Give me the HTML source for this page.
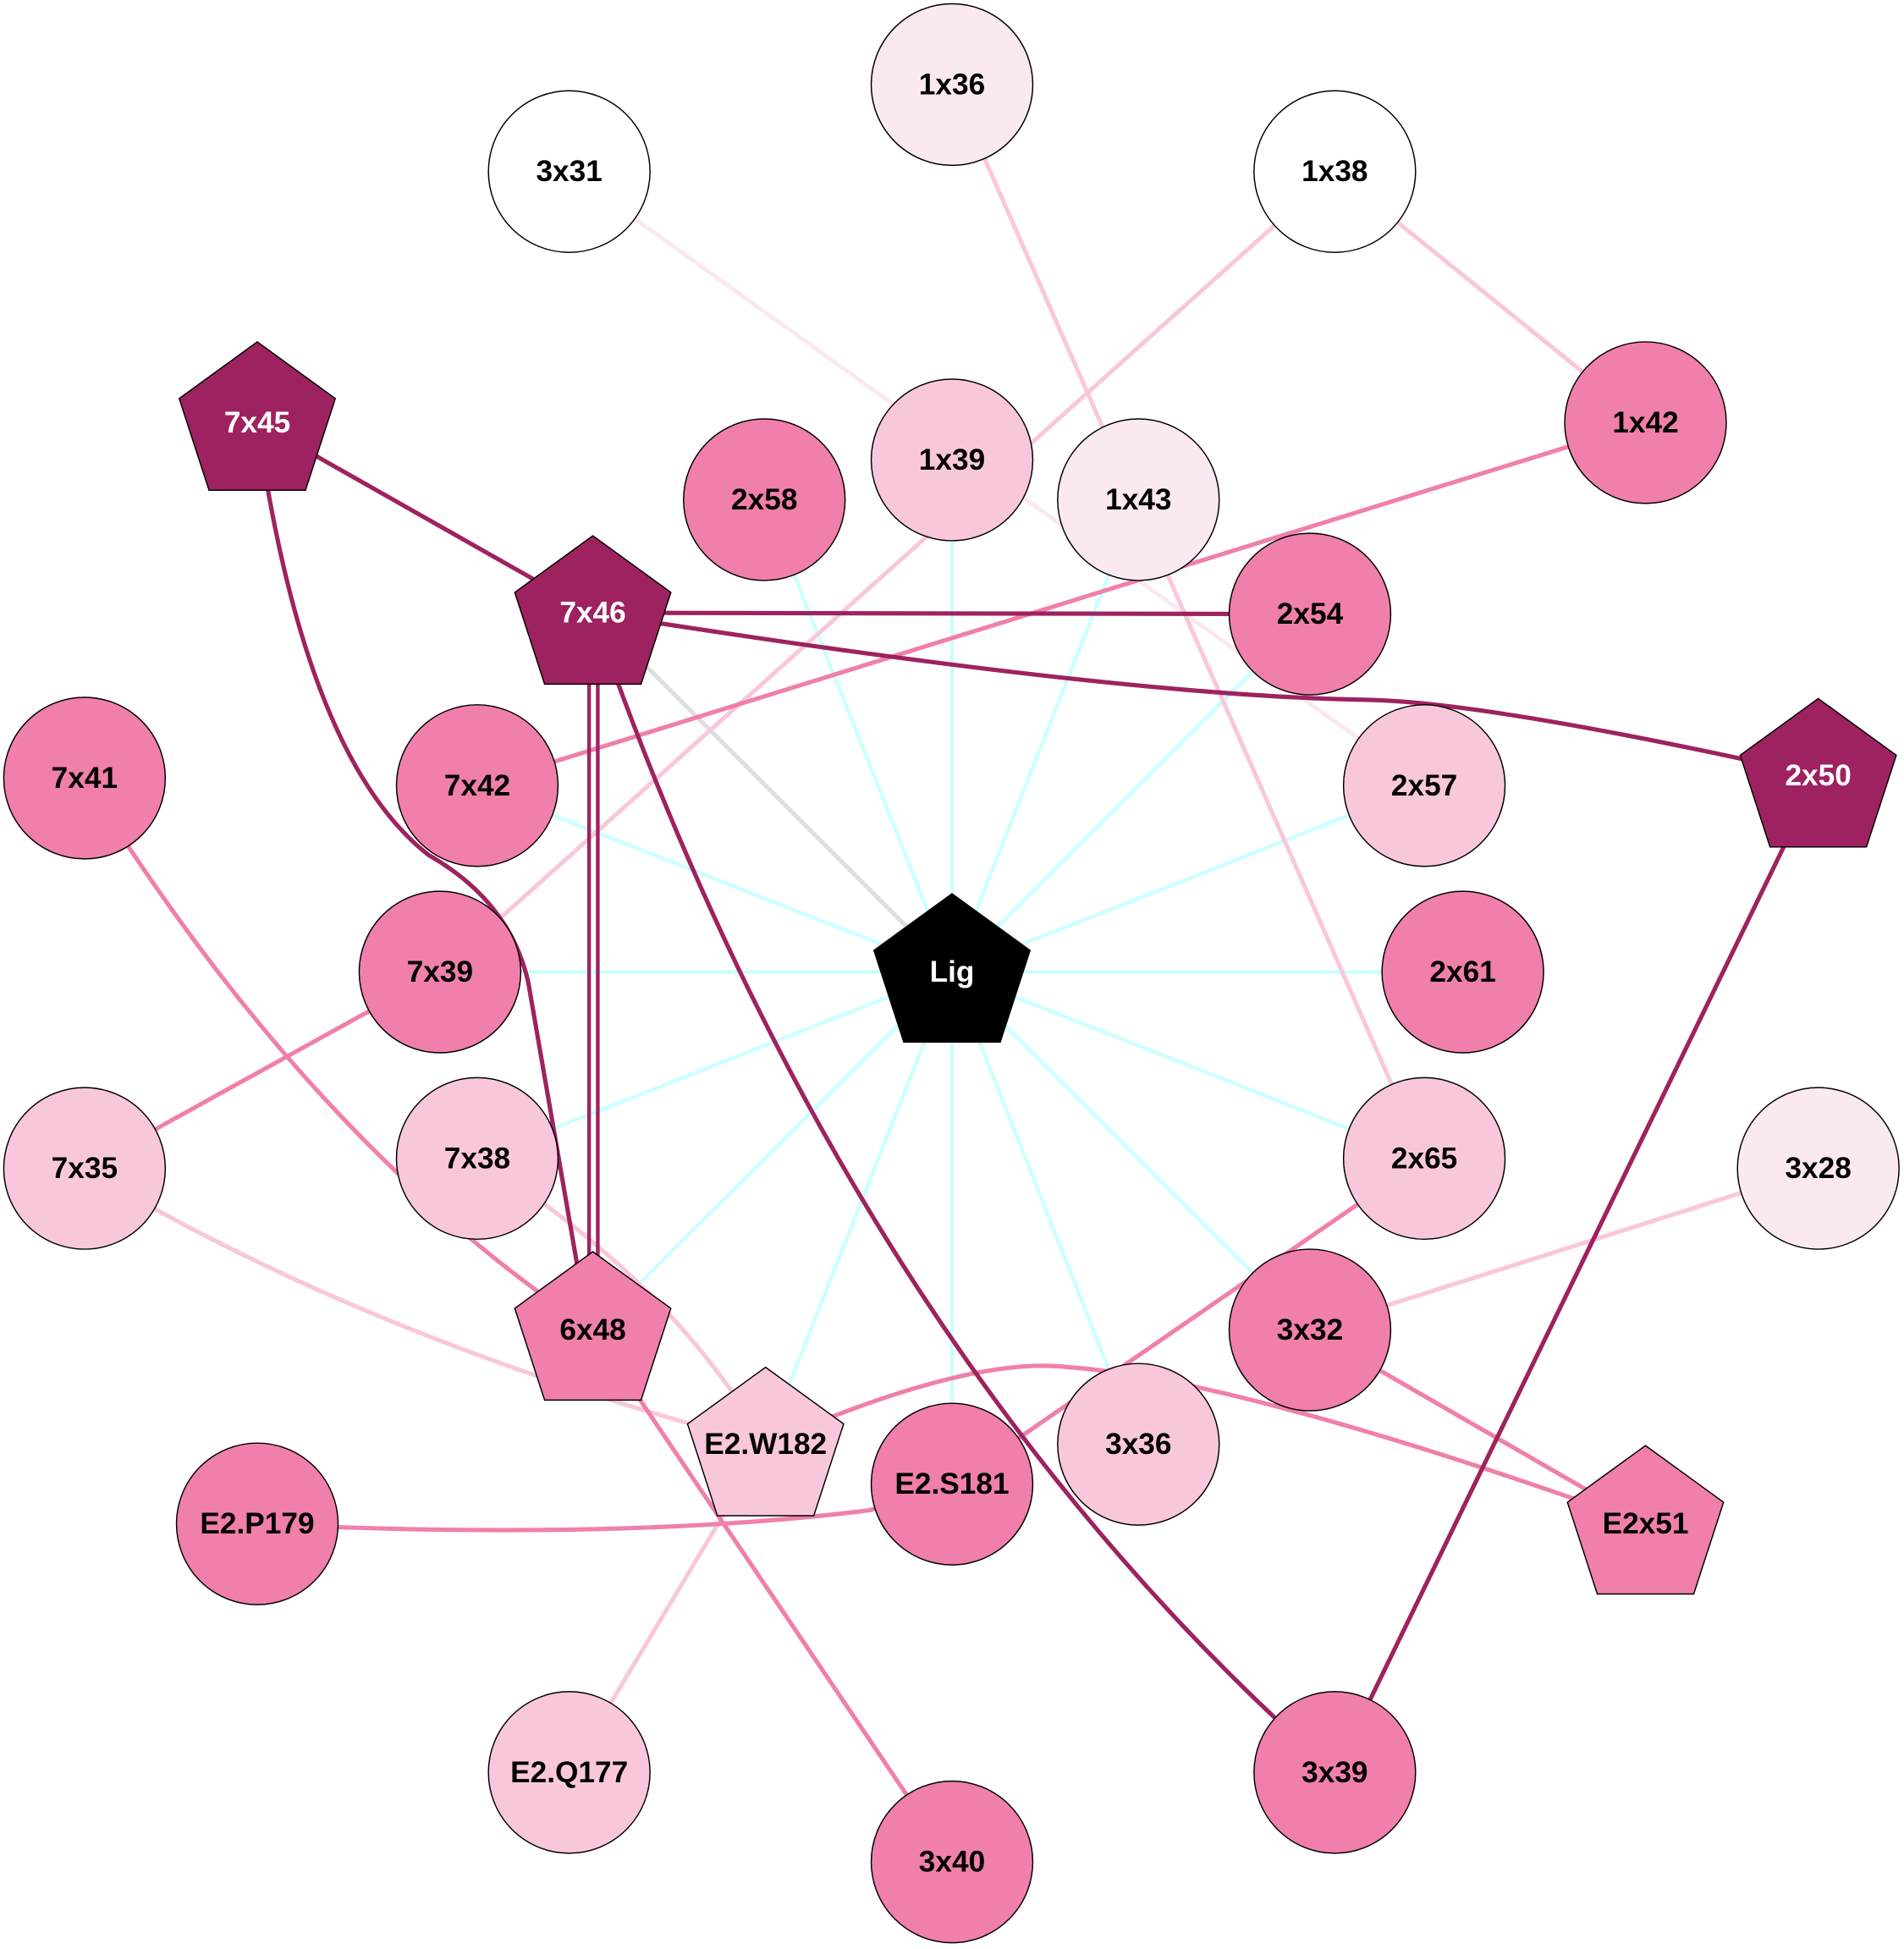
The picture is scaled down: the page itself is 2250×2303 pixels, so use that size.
<!DOCTYPE html>
<html><head><meta charset="utf-8"><style>
html,body{margin:0;padding:0;background:#fff;}
svg{display:block}
text{font-family:"Liberation Sans",Arial,sans-serif;font-weight:bold;font-size:24px;text-anchor:middle;dominant-baseline:central}
</style></head><body>
<svg width="2250" height="2303" viewBox="0 0 1532 1568" xmlns="http://www.w3.org/2000/svg">
<g fill="none" stroke-width="3.5">
<g stroke="#ccffff" stroke-width="3">
<line x1="766" y1="782" x2="615" y2="402"/>
<line x1="766" y1="782" x2="766" y2="370"/>
<line x1="766" y1="782" x2="916" y2="402"/>
<line x1="766" y1="782" x2="1054" y2="494"/>
<line x1="766" y1="782" x2="1146" y2="632"/>
<line x1="766" y1="782" x2="1177" y2="782"/>
<line x1="766" y1="782" x2="1146" y2="932"/>
<line x1="766" y1="782" x2="1054" y2="1070"/>
<line x1="766" y1="782" x2="916" y2="1162"/>
<line x1="766" y1="782" x2="766" y2="1194"/>
<line x1="766" y1="782" x2="616" y2="1162"/>
<line x1="766" y1="782" x2="477" y2="1070"/>
<line x1="766" y1="782" x2="384" y2="932"/>
<line x1="766" y1="782" x2="354" y2="782"/>
<line x1="766" y1="782" x2="384" y2="632"/>
</g>
<line x1="766" y1="782" x2="477" y2="493" stroke="#dddddd"/>
<line x1="458" y1="138" x2="1146" y2="632" stroke="#fbe9f2"/>
<g stroke="#f9c7dc">
<line x1="766" y1="68" x2="1146" y2="932"/>
<line x1="1074" y1="138" x2="354" y2="782"/>
<line x1="1074" y1="138" x2="1324" y2="340"/>
<line x1="1463" y1="940" x2="1054" y2="1070"/>
<path d="M384 932 Q540 1030 616 1162"/>
<line x1="616" y1="1162" x2="458" y2="1426"/>
<path d="M68 940 Q300 1080 616 1162"/>
</g>
<g stroke="#f07fab">
<line x1="1324" y1="340" x2="384" y2="632"/>
<path d="M68 626 Q250 920 477 1070"/>
<line x1="354" y1="782" x2="68" y2="940"/>
<line x1="477" y1="1070" x2="766" y2="1498"/>
<line x1="1146" y1="932" x2="766" y2="1194"/>
<line x1="1054" y1="1070" x2="1324" y2="1226"/>
<path d="M616 1162 Q780 1090 860 1100 Q1000 1110 1324 1226"/>
<path d="M207 1226 Q500 1240 700 1215 L766 1194"/>
</g>
<g stroke="#9e2260">
<line x1="207" y1="340" x2="477" y2="493"/>
<path d="M207 340 Q245 610 345 688 Q410 725 425 790 L470 1050"/>
<line x1="477" y1="493" x2="1054" y2="494"/>
<path d="M477 493 Q900 560 1100 563 Q1200 565 1463 624"/>
<line x1="474" y1="493" x2="474" y2="1070" stroke-width="3"/>
<line x1="481" y1="493" x2="481" y2="1070" stroke-width="3"/>
<path d="M477 493 Q680 1080 1074 1426"/>
<line x1="1463" y1="624" x2="1074" y2="1426"/>
</g>
</g>
<g stroke="#000" stroke-width="1">
<circle cx="766" cy="68" r="65" fill="#fbe9f2"/>
<circle cx="458" cy="138" r="65" fill="#fff"/>
<circle cx="1074" cy="138" r="65" fill="#fff"/>
<circle cx="1324" cy="340" r="65" fill="#f07fab"/>
<circle cx="766" cy="370" r="65" fill="#f9c7dc"/>
<circle cx="615" cy="402" r="65" fill="#f07fab"/>
<circle cx="916" cy="402" r="65" fill="#fbe9f2"/>
<circle cx="1054" cy="494" r="65" fill="#f07fab"/>
<circle cx="68" cy="626" r="65" fill="#f07fab"/>
<circle cx="384" cy="632" r="65" fill="#f07fab"/>
<circle cx="1146" cy="632" r="65" fill="#f9c7dc"/>
<circle cx="354" cy="782" r="65" fill="#f07fab"/>
<circle cx="1177" cy="782" r="65" fill="#f07fab"/>
<circle cx="68" cy="940" r="65" fill="#f9c7dc"/>
<circle cx="384" cy="932" r="65" fill="#f9c7dc"/>
<circle cx="1146" cy="932" r="65" fill="#f9c7dc"/>
<circle cx="1463" cy="940" r="65" fill="#fbe9f2"/>
<circle cx="1054" cy="1070" r="65" fill="#f07fab"/>
<circle cx="916" cy="1162" r="65" fill="#f9c7dc"/>
<circle cx="766" cy="1194" r="65" fill="#f07fab"/>
<circle cx="207" cy="1226" r="65" fill="#f07fab"/>
<circle cx="458" cy="1426" r="65" fill="#f9c7dc"/>
<circle cx="1074" cy="1426" r="65" fill="#f07fab"/>
<circle cx="766" cy="1498" r="65" fill="#f07fab"/>
<polygon transform="translate(207,341)" points="0,-66 62.8,-20.4 38.8,53.4 -38.8,53.4 -62.8,-20.4" fill="#9e2260"/>
<polygon transform="translate(477,497)" points="0,-66 62.8,-20.4 38.8,53.4 -38.8,53.4 -62.8,-20.4" fill="#9e2260"/>
<polygon transform="translate(1463,628)" points="0,-66 62.8,-20.4 38.8,53.4 -38.8,53.4 -62.8,-20.4" fill="#9e2260"/>
<polygon transform="translate(766,785)" points="0,-66 62.8,-20.4 38.8,53.4 -38.8,53.4 -62.8,-20.4" fill="#000"/>
<polygon transform="translate(477,1073)" points="0,-66 62.8,-20.4 38.8,53.4 -38.8,53.4 -62.8,-20.4" fill="#f07fab"/>
<polygon transform="translate(616,1166)" points="0,-66 62.8,-20.4 38.8,53.4 -38.8,53.4 -62.8,-20.4" fill="#f9c7dc"/>
<polygon transform="translate(1324,1229)" points="0,-66 62.8,-20.4 38.8,53.4 -38.8,53.4 -62.8,-20.4" fill="#f07fab"/>
</g>
<g fill="#000">
<text x="766" y="68">1x36</text><text x="458" y="138">3x31</text><text x="1074" y="138">1x38</text>
<text x="1324" y="340">1x42</text><text x="766" y="370">1x39</text><text x="615" y="402">2x58</text>
<text x="916" y="402">1x43</text><text x="1054" y="494">2x54</text><text x="68" y="626">7x41</text>
<text x="384" y="632">7x42</text><text x="1146" y="632">2x57</text><text x="354" y="782">7x39</text>
<text x="1177" y="782">2x61</text><text x="68" y="940">7x35</text><text x="384" y="932">7x38</text>
<text x="1146" y="932">2x65</text><text x="1463" y="940">3x28</text><text x="1054" y="1070">3x32</text>
<text x="916" y="1162">3x36</text><text x="766" y="1194">E2.S181</text><text x="207" y="1226">E2.P179</text>
<text x="458" y="1426">E2.Q177</text><text x="1074" y="1426">3x39</text><text x="766" y="1498">3x40</text>
<text x="477" y="1070">6x48</text><text x="616" y="1162">E2.W182</text><text x="1324" y="1226">E2x51</text>
</g>
<g fill="#fff">
<text x="207" y="340">7x45</text><text x="477" y="493">7x46</text><text x="1463" y="624">2x50</text><text x="766" y="782">Lig</text>
</g>
</svg>
</body></html>
